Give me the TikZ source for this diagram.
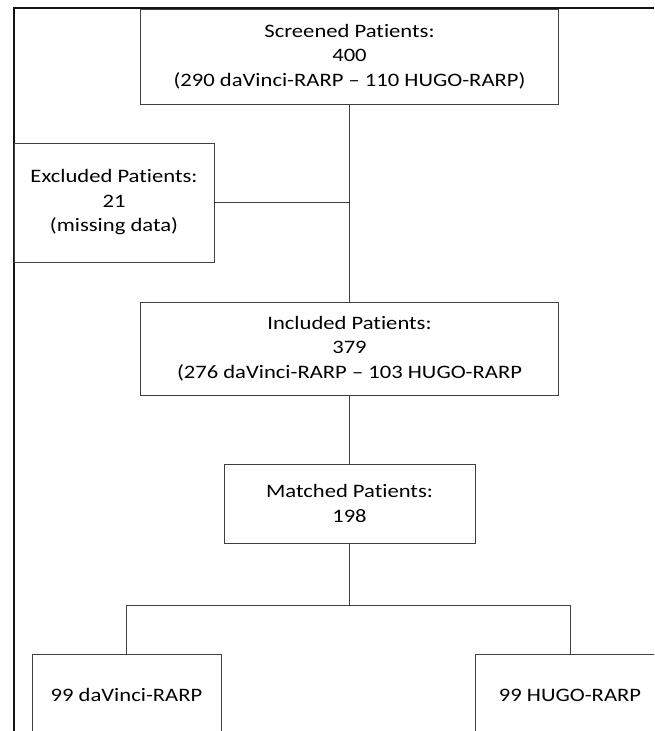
\documentclass[tikz,border=0pt]{standalone}
\usepackage{fontspec}
\setmainfont{Carlito}[FakeStretch=1.19, Ligatures=NoCommon]
\usepackage{xcolor}
\usepackage{tikz}
\usetikzlibrary{positioning,calc}
\definecolor{boxgray}{RGB}{64, 64, 64}
\definecolor{framegray}{RGB}{20, 20, 20}

\begin{document}
\begin{tikzpicture}[x=1pt, y=-1pt,
    flowbox/.style={draw=boxgray, line width=1pt, fill=white, inner sep=0pt, align=center,
        font=\fontsize{19}{24.5}\selectfont},
    link/.style={draw=boxgray, line width=1pt}]
        \clip (0, 0) rectangle (654, 731);

        % Outer frame
        \draw[draw=framegray, line width=2pt] (13.5, 731) -- (13.5, 7.5) -- (654, 7.5);

        % Screened patients
        \node[flowbox, minimum width=418pt, minimum height=95pt] (scr) at (349.5, 56.5)
            {Screened Patients:\\400\\(290 daVinci-RARP -- 110 HUGO-RARP)};

        % Excluded patients
        \node[flowbox, minimum width=200pt, minimum height=119pt] (exc) at (114, 202.5)
            {Excluded Patients:\\21\\(missing data)};

        % Included patients
        \node[flowbox, minimum width=418pt, minimum height=93pt] (inc) at (349.5, 348.5)
            {Included Patients:\\379\\(276 daVinci-RARP -- 103 HUGO-RARP};

        % Matched patients
        \node[flowbox, minimum width=251pt, minimum height=79pt] (mat) at (349.5, 503.5)
            {Matched Patients:\\198};

        % Matched arms
        \node[flowbox, minimum width=189pt, minimum height=82pt] (dav) at (126.5, 695) {99 daVinci-RARP};
        \node[flowbox, minimum width=190pt, minimum height=82pt] (hugo) at (570, 695) {99 HUGO-RARP};

        % Connectors
        \draw[link] (scr.south) -- (inc.north);
        \draw[link] (exc.east) -- (exc.east -| scr.south);
        \draw[link] (inc.south) -- (mat.north);
        \coordinate (split) at ($(mat.south)+(0, 62)$);
        \draw[link] (mat.south) -- (split);
        \draw[link] (split) -| (dav.north);
        \draw[link] (split) -| (hugo.north);
\end{tikzpicture}
\end{document}
